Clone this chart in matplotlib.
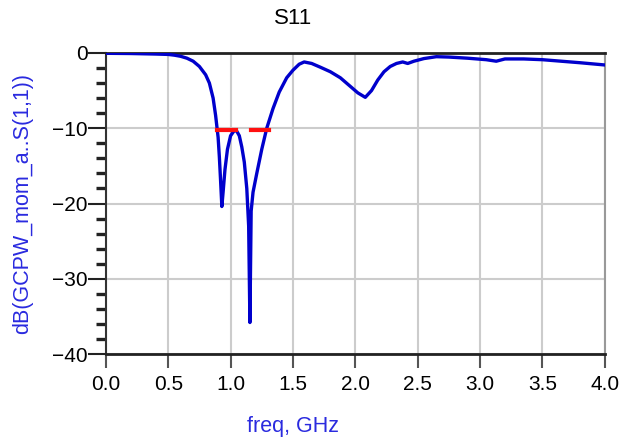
import numpy as np
import matplotlib
matplotlib.use("Agg")
import matplotlib.pyplot as plt
from matplotlib.ticker import MultipleLocator

plt.rcParams['font.family'] = ['Liberation Sans', 'DejaVu Sans']

# S11 trace
freq = [0.00, 0.20, 0.40, 0.50, 0.55, 0.60, 0.65, 0.70, 0.75, 0.80, 0.83, 0.86,
        0.88, 0.90, 0.91, 0.92, 0.93, 0.94, 0.955, 0.975, 1.00, 1.03, 1.05, 1.07,
        1.09, 1.11, 1.13, 1.145, 1.155, 1.165, 1.18, 1.21, 1.25, 1.29, 1.34, 1.39,
        1.45, 1.50, 1.55, 1.59, 1.65, 1.72, 1.80, 1.88, 1.95, 2.02, 2.08, 2.13,
        2.18, 2.23, 2.28, 2.33, 2.38, 2.42, 2.47, 2.55, 2.65, 2.75, 2.90, 3.05,
        3.13, 3.20, 3.35, 3.50, 3.65, 3.80, 3.90, 4.00]
s11_db = [-0.05, -0.08, -0.15, -0.2, -0.3, -0.45, -0.7, -1.1, -1.8, -2.9, -4.0, -6.0,
          -8.3, -11.2, -13.8, -17.0, -20.4, -18.5, -15.5, -12.8, -11.0, -10.3, -10.4, -11.0,
          -12.5, -14.5, -18.0, -23.0, -35.8, -21.0, -18.5, -16.0, -12.8, -10.0, -7.4, -5.2,
          -3.3, -2.3, -1.5, -1.2, -1.4, -1.9, -2.5, -3.3, -4.3, -5.3, -5.9, -5.0,
          -3.6, -2.5, -1.8, -1.4, -1.2, -1.4, -1.1, -0.75, -0.5, -0.55, -0.7, -0.9,
          -1.1, -0.8, -0.8, -0.9, -1.1, -1.3, -1.45, -1.6]

# -10 dB band markers
band1 = [0.895, 1.04]
band2 = [1.16, 1.31]
level = -10.3

xticks = np.arange(0, 4.01, 0.5)
yticks = [0, -10, -20, -30, -40]

fig = plt.figure(figsize=(6.19, 4.41), dpi=100)
ax = fig.add_axes([0.171, 0.197, 0.806, 0.683])

ax.plot(freq, s11_db, color='#0000cc', lw=2.4, zorder=3)
ax.plot(band1, [level, level], color='#ff1010', lw=3, zorder=4)
ax.plot(band2, [level, level], color='#ff1010', lw=3, zorder=4)

ax.set_xlim(0, 4)
ax.set_ylim(-40, 0)
ax.set_xticks(xticks)
ax.set_xticklabels(['%.1f' % v for v in xticks])
ax.set_yticks(yticks)
ax.yaxis.set_minor_locator(MultipleLocator(2))
ax.grid(True, which='major', color='#cccccc', lw=1.5, zorder=0)

ax.tick_params(axis='x', which='major', direction='out', length=10, width=1.5,
               color='#555555', labelsize=15, pad=5)
ax.tick_params(axis='y', which='major', direction='out', length=13, width=1.5,
               color='#222222', labelsize=15, pad=0)
ax.tick_params(axis='y', which='minor', direction='out', length=7, width=2.4,
               color='#222222')

for side in ['top', 'bottom']:
    ax.spines[side].set_linewidth(2)
    ax.spines[side].set_color('#222222')
ax.spines['left'].set_linewidth(1.5)
ax.spines['left'].set_color('#333333')
ax.spines['right'].set_linewidth(1.5)
ax.spines['right'].set_color('#999999')

fig.text(0.474, 0.957, 'S11', fontsize=16, ha='center', va='center')
fig.text(0.474, 0.034, 'freq, GHz', color='#2a2adf', fontsize=15.5,
         ha='center', va='center')
fig.text(0.037, 0.538, 'dB(GCPW_mom_a..S(1,1))', color='#2a2adf', fontsize=15.5,
         rotation=90, ha='center', va='center')

fig.savefig('out.png', dpi=100)
